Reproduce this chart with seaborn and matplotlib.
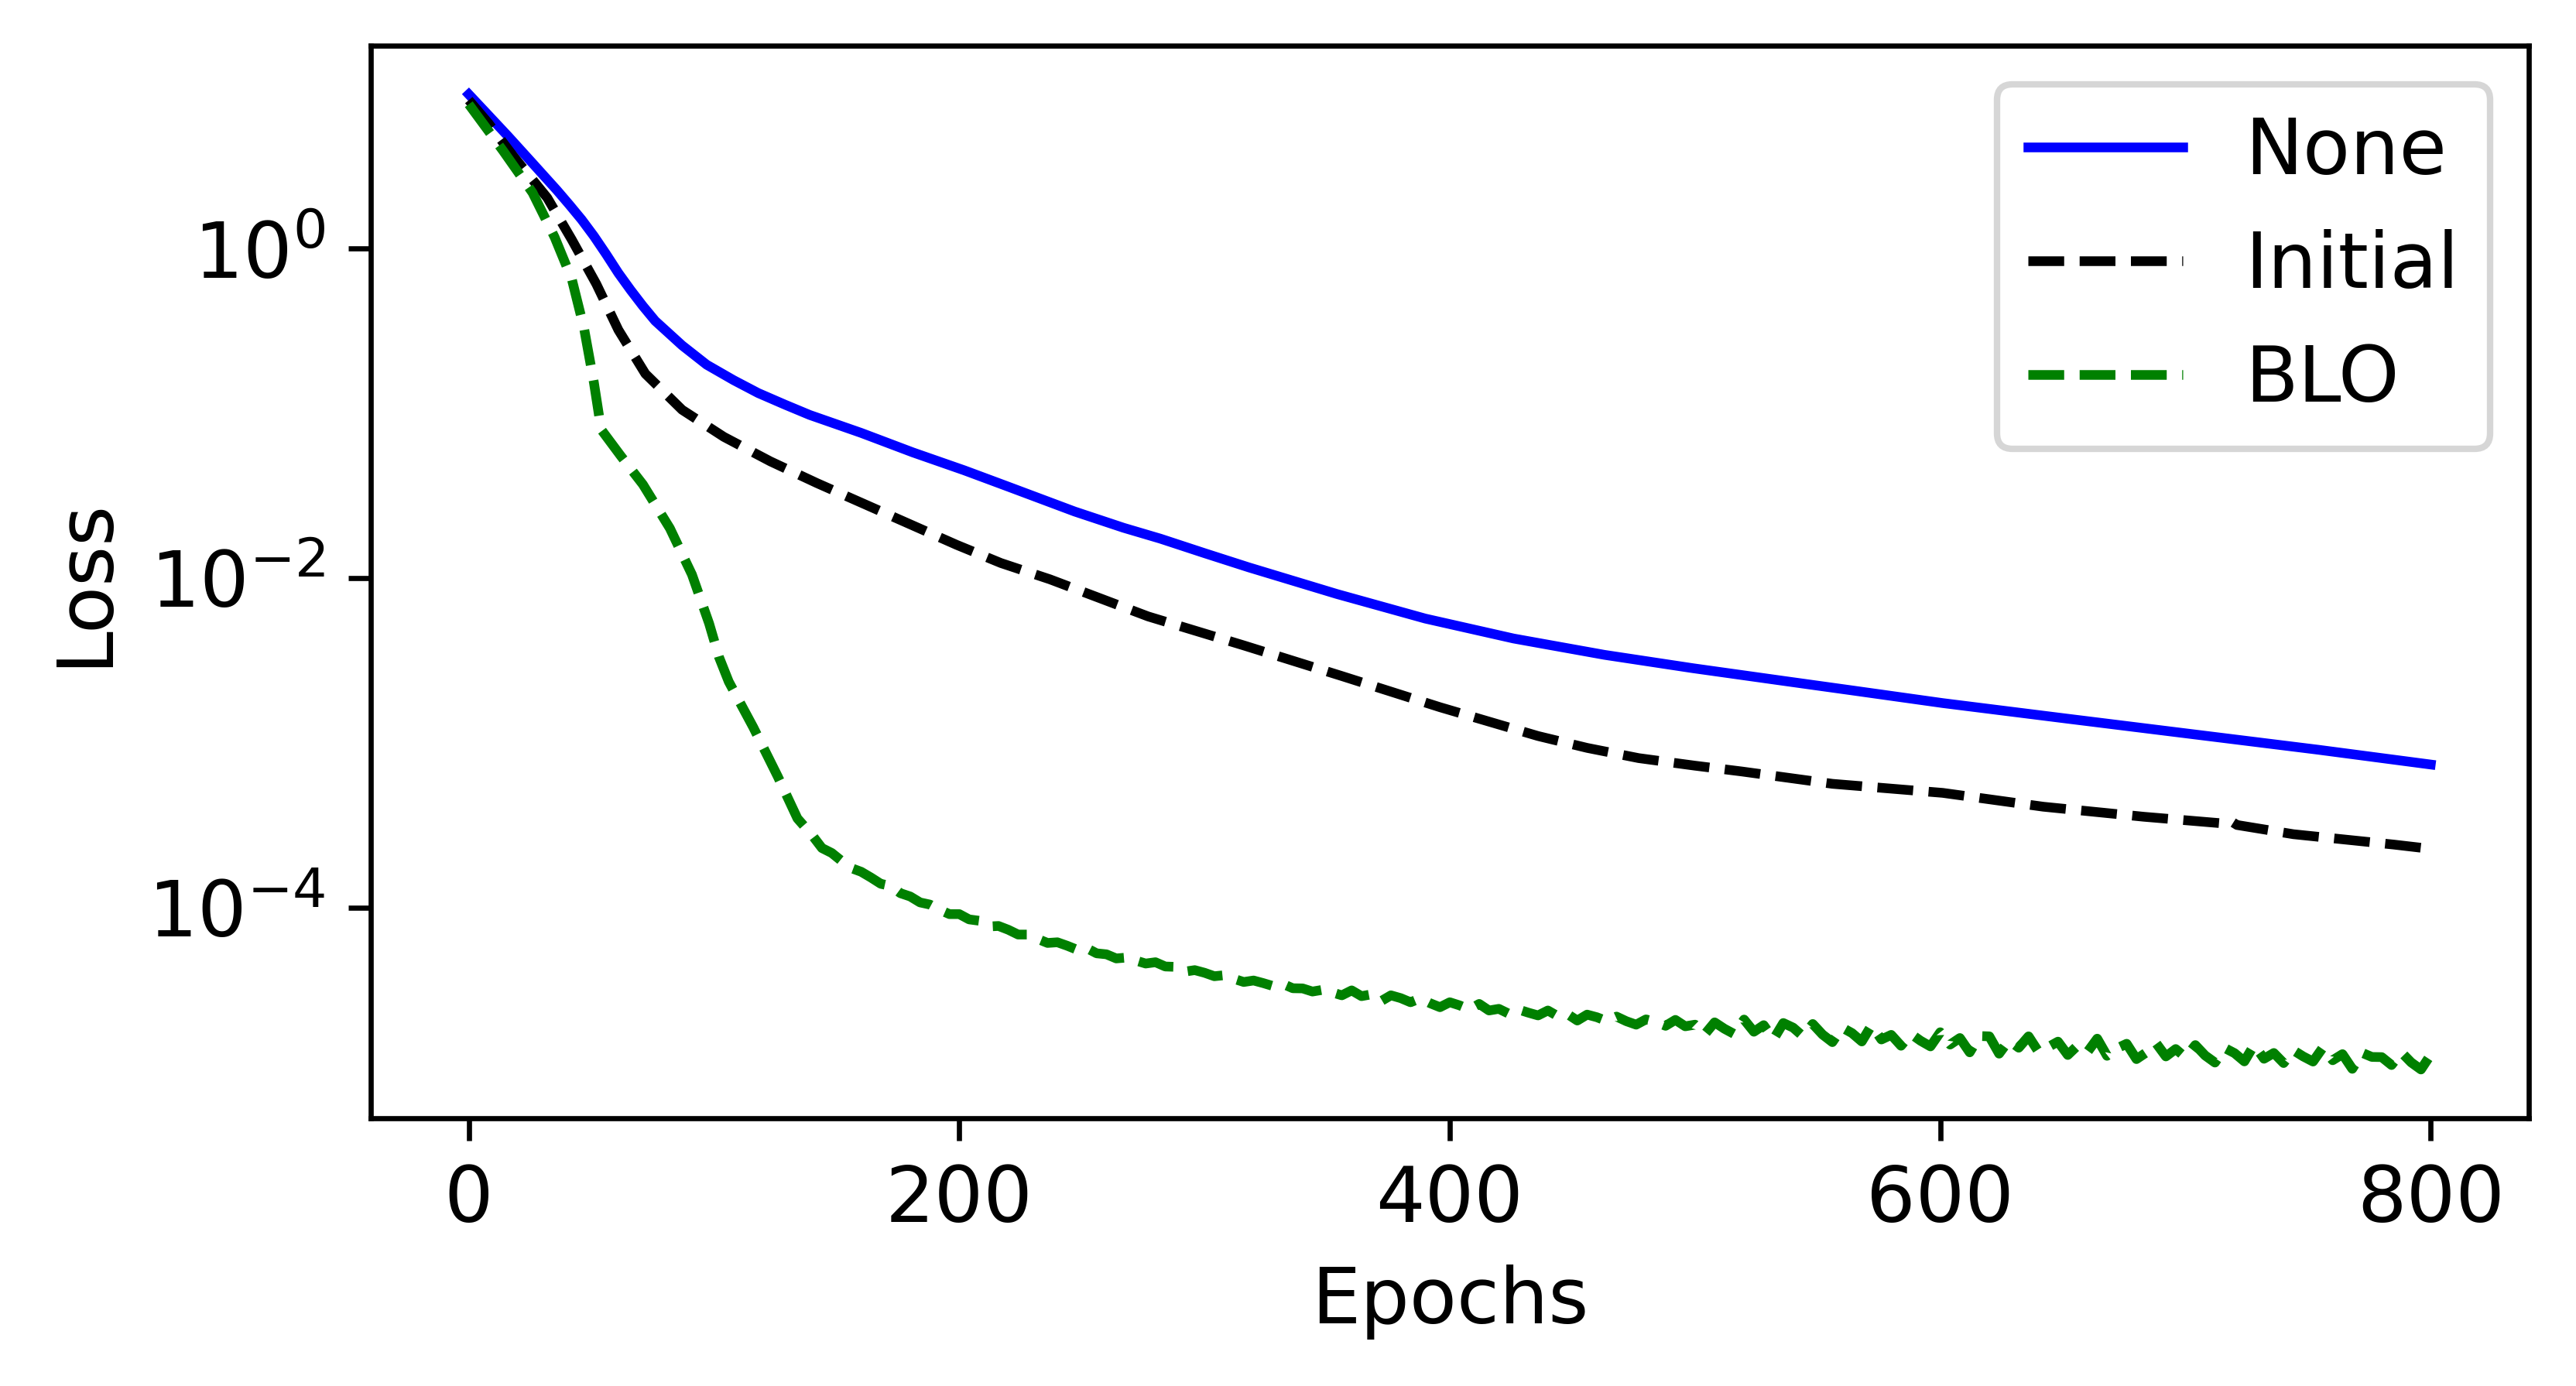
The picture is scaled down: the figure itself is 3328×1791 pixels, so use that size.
import numpy as np
import pandas as pd
import matplotlib
matplotlib.use("Agg")
import matplotlib.pyplot as plt
from matplotlib.ticker import MultipleLocator
import seaborn as sns

# -------------------------------
# values (loss as log10)
# -------------------------------
none_epochs = [0, 6, 16, 26, 36, 41, 46, 51, 56, 61, 66, 71, 76, 87, 97, 108, 118, 129, 139,
               160, 181, 202, 219, 247, 267, 282, 300, 318, 354, 390, 426, 463, 499, 535,
               565, 601, 652, 703, 754, 800]
none_log10 = [0.935, 0.84, 0.681, 0.517, 0.352, 0.265, 0.175, 0.075, -0.035, -0.15, -0.253,
              -0.35, -0.44, -0.589, -0.706, -0.80, -0.878, -0.949, -1.011, -1.12, -1.238,
              -1.347, -1.441, -1.597, -1.696, -1.762, -1.85, -1.936, -2.098, -2.247, -2.368,
              -2.467, -2.548, -2.623, -2.685, -2.76, -2.855, -2.949, -3.043, -3.133]

initial_epochs = [0, 8, 18, 32, 42, 52, 61, 72, 87, 104, 123, 142, 161, 180, 199, 217, 237,
                  277, 316, 356, 396, 436, 456, 477, 500, 519, 556, 601, 642, 683, 715, 718,
                  721, 744, 785, 800]
initial_log10 = [0.90, 0.76, 0.563, 0.307, 0.053, -0.216, -0.495, -0.761, -0.98, -1.144,
                 -1.293, -1.425, -1.55, -1.675, -1.80, -1.91, -2.009, -2.234, -2.41, -2.596,
                 -2.785, -2.96, -3.032, -3.094, -3.14, -3.175, -3.25, -3.305, -3.389, -3.45,
                 -3.49, -3.472, -3.50, -3.556, -3.619, -3.645]

# BLO: fast drop, then a noisy tail sampled every 4 epochs from 140
blo_epochs = [0, 14, 26, 35, 42, 47, 51, 54, 62, 71, 82, 91, 98, 102, 106, 116, 126, 134] + list(range(140, 801, 4))
blo_log10 = [
    0.875, 0.592, 0.338, 0.068, -0.186, -0.485, -0.813, -1.10, -1.26, -1.433, -1.699, -1.98,
    -2.277, -2.48, -2.63, -2.907, -3.206, -3.46,
    # 140 - 196
    -3.562, -3.640, -3.670, -3.718, -3.762, -3.784, -3.819, -3.857, -3.870, -3.914,
    -3.934, -3.970, -3.983, -4.015, -4.041,
    # 200 - 348
    -4.041, -4.073, -4.081, -4.116, -4.113, -4.136, -4.165, -4.165, -4.192, -4.216,
    -4.212, -4.233, -4.257, -4.248, -4.279, -4.285, -4.310, -4.305, -4.323, -4.341,
    -4.333, -4.359, -4.361, -4.390, -4.381, -4.397, -4.418, -4.412, -4.434, -4.453,
    -4.444, -4.460, -4.478, -4.465, -4.491, -4.492, -4.511, -4.501,
    # 352 - 500
    -4.516, -4.534, -4.504, -4.539, -4.528, -4.569, -4.534, -4.551, -4.576, -4.552,
    -4.582, -4.606, -4.576, -4.595, -4.620, -4.586, -4.626, -4.616, -4.645, -4.620,
    -4.639, -4.656, -4.626, -4.660, -4.648, -4.687, -4.651, -4.667, -4.690, -4.663,
    -4.691, -4.712, -4.680, -4.696, -4.719, -4.683, -4.722, -4.712,
    # 504 - 800
    -4.770, -4.698, -4.737, -4.769, -4.681, -4.755, -4.715, -4.801, -4.702, -4.730,
    -4.782, -4.708, -4.772, -4.818, -4.730, -4.763, -4.814, -4.715, -4.802, -4.774,
    -4.840, -4.768, -4.810, -4.844, -4.758, -4.833, -4.793, -4.880, -4.781, -4.783,
    -4.888, -4.807, -4.852, -4.783, -4.875, -4.848, -4.815, -4.896, -4.839, -4.878,
    -4.797, -4.901, -4.856, -4.828, -4.921, -4.881, -4.824, -4.905, -4.860, -4.911,
    -4.836, -4.899, -4.942, -4.854, -4.885, -4.935, -4.834, -4.919, -4.884, -4.945,
    -4.868, -4.905, -4.936, -4.851, -4.928, -4.891, -4.980, -4.883, -4.908, -4.909,
    -4.957, -4.880, -4.941, -4.984, -4.894,
]

series = [
    ("None", none_epochs, none_log10, "b", "-"),
    ("Initial", initial_epochs, initial_log10, "k", "--"),
    ("BLO", blo_epochs, blo_log10, "g", "--"),
]

# -------------------------------
# plot
# -------------------------------
plt.rcParams['font.size'] = 12
fig, ax = plt.subplots(figsize=(3328 / 600, 1791 / 600), dpi=600)
fig.subplots_adjust(left=0.1439, right=0.9817, bottom=0.1932, top=0.9671)

for name, ep, lg, color, ls in series:
    df = pd.DataFrame({'epoch': ep, 'loss': 10.0 ** np.array(lg)})
    sns.lineplot(data=df, x='epoch', y='loss', ax=ax, color=color, linestyle=ls,
                 linewidth=1.5, label=name, errorbar=None)

ax.set_yscale('log')
ax.xaxis.set_major_locator(MultipleLocator(200))
ax.set_xlabel('Epochs', fontsize=12)
ax.set_ylabel('Loss', fontsize=12)
ax.tick_params(labelsize=12)
ax.legend(loc='upper right', fontsize=12)

fig.savefig('out.png', dpi=600)
